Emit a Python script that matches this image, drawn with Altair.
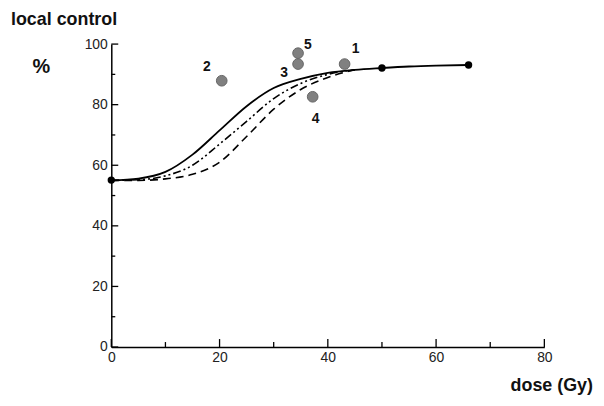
import altair as alt
import pandas as pd

# ---- data ----
solid_x = [0, 5, 10, 15, 20, 25, 30, 35, 40, 45, 50, 55, 60, 66]
solid_y = [55, 55.6, 57.8, 63.5, 71.5, 79.5, 85.5, 88.5, 90.5, 91.5, 92.1, 92.6, 92.9, 93.1]

dashdot_x = [0, 5, 10, 15, 20, 25, 30, 35, 40, 45]
dashdot_y = [55, 55.2, 56.5, 60, 67, 74.5, 82, 87, 90, 91.5]

dashed_x = [0, 5, 10, 15, 20, 25, 30, 35, 40, 45]
dashed_y = [55, 55, 55.5, 57, 61, 69.5, 78.5, 85, 89, 91.5]

model_x = [0, 50, 66]
model_y = [55.1, 92.1, 93.1]

study_x = [43.1, 20.4, 34.5, 37.2, 34.5]
study_y = [93.4, 87.9, 93.4, 82.6, 97.0]
study_label = ["1", "2", "3", "4", "5"]

x_major = [0, 20, 40, 60, 80]
x_minor = [10, 30, 50, 70]
y_major = [0, 20, 40, 60, 80, 100]
y_minor = [10, 30, 50, 70, 90]

title_text = "local control"
y_title = "%"
x_title = "dose (Gy)"

# ---- styles ----
W, H = 436, 305
FONT = "Liberation Sans, Arial, sans-serif"
label_offsets = {"1": (11, -15), "2": (-15, -14), "3": (-14, 9), "4": (3, 22), "5": (10, -8)}

xs = alt.Scale(domain=[0, 80], nice=False, zero=True)
ys = alt.Scale(domain=[0, 100], nice=False, zero=True)

solid = pd.DataFrame({"x": solid_x, "y": solid_y})
dashdot = pd.DataFrame({"x": dashdot_x, "y": dashdot_y})
dashed = pd.DataFrame({"x": dashed_x, "y": dashed_y})
model = pd.DataFrame({"x": model_x, "y": model_y})
study = pd.DataFrame({"x": study_x, "y": study_y, "label": study_label})

base_x = alt.X("x:Q", scale=xs, axis=alt.Axis(
    values=x_major, ticks=False, grid=False, labelPadding=4, labelFlush=False, title=x_title,
    titleX=443, titleY=39, titleAlign="center", titleBaseline="middle",
    titleFontSize=18, titleFontWeight="bold", titleColor="#111"))
base_y = alt.Y("y:Q", scale=ys, axis=alt.Axis(
    values=y_major, ticks=False, grid=False, labelPadding=4, labelFlush=False, title=y_title,
    titleAngle=0, titleX=-71, titleY=23, titleAlign="center", titleBaseline="middle",
    titleFontSize=20, titleFontWeight="bold", titleColor="#111"))

l_solid = alt.Chart(solid).mark_line(color="black", strokeWidth=1.8, interpolate="monotone").encode(x=base_x, y=base_y)
l_dd = alt.Chart(dashdot).mark_line(color="black", strokeWidth=1.6, strokeDash=[8, 3, 2, 3, 2, 3],
                                    interpolate="monotone").encode(
    x=alt.X("x:Q", scale=xs), y=alt.Y("y:Q", scale=ys))
l_dash = alt.Chart(dashed).mark_line(color="black", strokeWidth=1.6, strokeDash=[8, 5],
                                     interpolate="monotone").encode(
    x=alt.X("x:Q", scale=xs), y=alt.Y("y:Q", scale=ys))

p_model = alt.Chart(model).mark_circle(color="black", size=55, opacity=1).encode(
    x=alt.X("x:Q", scale=xs), y=alt.Y("y:Q", scale=ys))
p_study = alt.Chart(study).mark_point(filled=True, shape="circle", size=115, fill="#808080",
                                      stroke="#666666", strokeWidth=1, opacity=1).encode(
    x=alt.X("x:Q", scale=xs), y=alt.Y("y:Q", scale=ys))

texts = []
for lab in study_label:
    dx, dy = label_offsets[lab]
    texts.append(
        alt.Chart(study).transform_filter(alt.datum.label == lab).mark_text(
            dx=dx, dy=dy, fontSize=14, fontWeight="bold", color="#111", font=FONT
        ).encode(x=alt.X("x:Q", scale=xs), y=alt.Y("y:Q", scale=ys), text="label:N")
    )

def yticks(vals, length):
    return alt.Chart(pd.DataFrame({"y": vals})).mark_rule(color="black", strokeWidth=1.3).encode(
        y=alt.Y("y:Q", scale=ys), x=alt.value(0), x2=alt.value(length))

def xticks(vals, length):
    return alt.Chart(pd.DataFrame({"x": vals})).mark_rule(color="black", strokeWidth=1.3).encode(
        x=alt.X("x:Q", scale=xs), y=alt.value(H), y2=alt.value(H - length))

title_mark = alt.Chart(pd.DataFrame({"t": [title_text]})).mark_text(
    align="left", baseline="alphabetic", fontSize=18, fontWeight="bold", color="#111", font=FONT
).encode(x=alt.value(-101), y=alt.value(-19), text="t:N")

chart = alt.layer(
    l_solid, l_dd, l_dash, p_model, p_study, *texts,
    yticks(y_major, 7), yticks(y_minor, 4), xticks(x_major, 8), xticks(x_minor, 5),
    title_mark,
).properties(
    width=W, height=H,
    autosize=alt.AutoSizeParams(type="none"),
    padding={"left": 104, "top": 35, "right": 52, "bottom": 50},
    background="white",
).configure_view(strokeWidth=0).configure_axis(
    domainColor="black", domainWidth=1.5, labelColor="#222", labelFontSize=14,
    labelFont=FONT, titleFont=FONT,
)

chart.save("out.html", embed_options={"renderer": "svg", "actions": False})
